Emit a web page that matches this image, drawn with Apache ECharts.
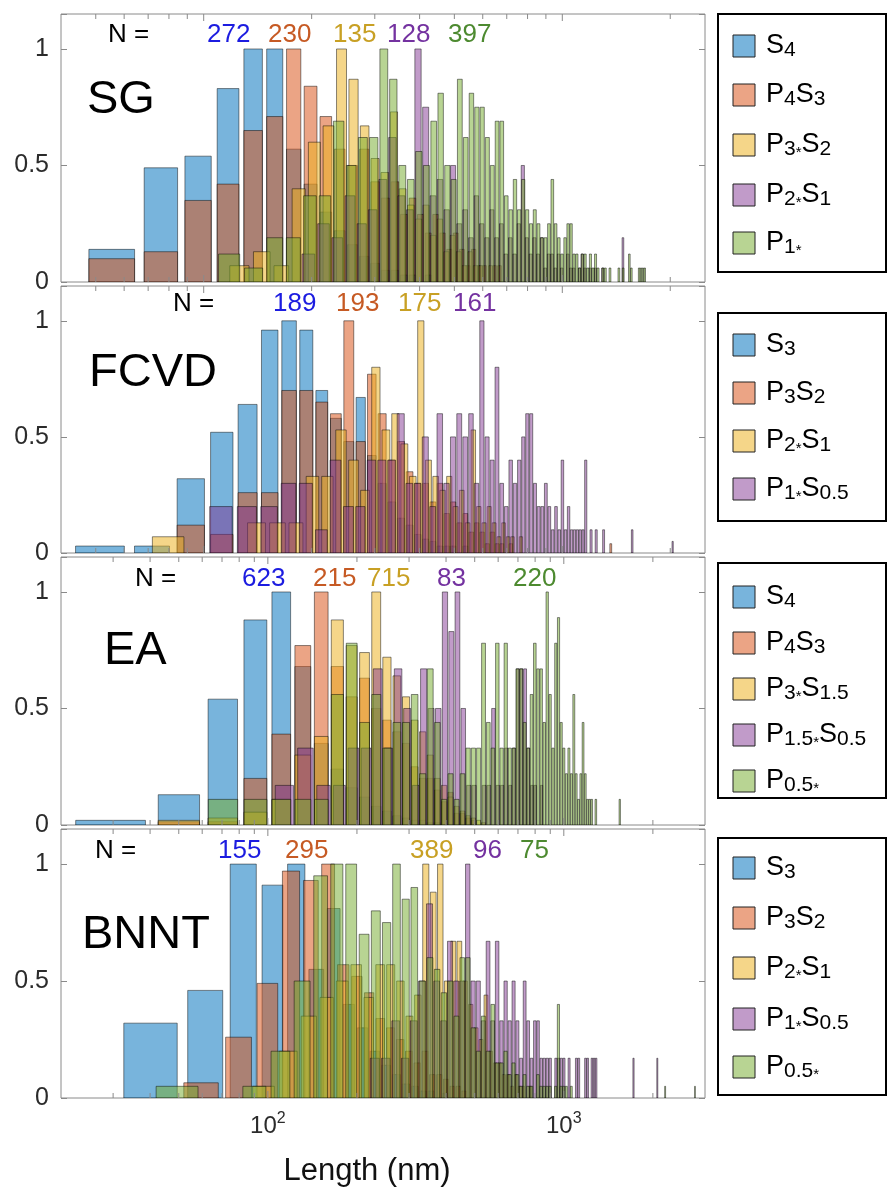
<!DOCTYPE html>
<html>
<head>
<meta charset="utf-8">
<script src="https://cdn.jsdelivr.net/npm/echarts@6/dist/echarts.min.js"></script>
<style>
  html, body { margin: 0; padding: 0; background: #ffffff; }
  #chart { width: 888px; height: 1198px; }
</style>
</head>
<body>
<div id="chart"></div>
<script>
// ---------------------------------------------------------------------------
// Length distributions (normalised so the tallest bin of each series is 1).
// Each series: first bin centre (nm), bin width (nm) and bin heights.
// ---------------------------------------------------------------------------

// SG
const SG_START = [56, 56, 126, 196, 118];
const SG_STEP  = [20.4, 20.4, 19.4, 20, 20];
const SG_N     = [272, 230, 135, 128, 397];
const SG_LABELS = ['S{sub|4}', 'P{sub|4}S{sub|3}', 'P{sub|3}{st|*}S{sub|2}', 'P{sub|2}{st|*}S{sub|1}', 'P{sub|1}{st|*}'];
const SG_S4   = [0.14,0.49,0.54,0.83,1.00,1.00,0.57,0.42,0.30,0.22,0.16,0.11,0.08,0.05,0.05,0.03,0.03,0,0.03];
const SG_P4S3 = [0.10,0.13,0.35,0.42,0.65,0.71,1.00,0.84,0.71,0.57,0.50,0.57,0.43,0.36,0.43,0.29,0.36,0.29,0.21,0.29,
                 0.21,0.14,0.21,0.14,0.07,0.14,0.07,0.07,0,0.07,0.07];
const SG_P3S2 = [0.07,0.13,0.07,0.40,0.60,0.67,1.00,0.87,0.67,0.53,0.47,0.73,0.40,0.33,0.27,0.33,0.20,0.27,0.13,0.20,
                 0.13,0.07,0.13,0.07,0.07,0,0.07];
const SG_P2S1 = [0.12,0.25,0.19,0.37,0.25,0.31,0.44,0.62,0.37,0.31,
                 1.00,0.75,0.37,0.44,0.31,0.50,0.25,0.31,0.19,0.37,
                 0.25,0.19,0.31,0.19,0.25,0.12,0.19,0.12,0.25,0.50,
                 0.19,0.12,0.19,0.12,0.19,0.06,0.12,0.12,0.06,0.12,
                 0.06,0,0.12,0.06,0.06,0,0.06,0.12,0.06,0,
                 0.06,0,0.06,0,0,0.06,0,0,0,0,
                 0,0,0,0,0.19];
const SG_P1   = [0.12,0.06,0.19,0.19,0.37,0.37,0.69,0.50,0.62,0.62,
                 1.00,0.87,0.50,0.44,0.56,0.50,0.69,0.81,0.50,0.44,
                 0.87,0.62,0.81,0.75,0.75,0.62,0.50,0.69,0.69,0.37,
                 0.31,0.44,0.31,0.44,0.31,0.25,0.31,0.25,0.19,0.19,
                 0.25,0.44,0.25,0.19,0.12,0.19,0.25,0.25,0.12,0.12,
                 0.06,0.12,0.12,0.06,0.12,0.06,0.12,0.06,0,0.06,
                 0.06,0,0.06,0,0,0,0.06,0,0.06,0,
                 0,0.12,0.06,0,0,0,0.06,0.06,0.06,0.06];
const SG_TAIL = [];

// FCVD
const FCVD_START = [52, 52, 80, 112];
const FCVD_STEP  = [20.2, 20.2, 20.2, 20.2];
const FCVD_N     = [189, 193, 175, 161];
const FCVD_LABELS = ['S{sub|3}', 'P{sub|3}S{sub|2}', 'P{sub|2}{st|*}S{sub|1}', 'P{sub|1}{st|*}S{sub|0.5}'];
const FCVD_S3   = [0.03,0.03,0.32,0.52,0.64,0.96,1.00,0.96,0.70,0.58,
                   0.48,0.67,0.42,0.30,0.22,0.15,0.12,0.08,0.06,0.05,
                   0.03,0.03,0.03,0,0.03];
const FCVD_P3S2 = [0,0,0.12,0.08,0.26,0.26,0.70,0.70,0.65,0.60,
                   1.00,0.48,0.77,0.60,0.40,0.48,0.35,0.30,0.30,0.22,
                   0.30,0.17,0.22,0.13,0.17,0.09,0.13,0.09,0.04,0.09,
                   0.04,0.04,0,0.04];
const FCVD_P2S1 = [0.07,0,0,0.13,0.13,0.13,0.33,0.33,0.53,0.40,
                   0.27,0.80,0.53,0.60,0.47,0.33,1.00,0.40,0.33,0.27,
                   0.33,0.20,0.27,0.13,0.53,0.20,0.13,0.20,0.13,0.07,
                   0.13,0.07,0.07,0,0.07];
const FCVD_P1S05 = [0.2,0.2,0.2,0.3,0.3,0.1,0.4,0.2,0.2,0.4,
                    0.4,0.4,0.6,0.3,0.3,0.5,0.2,0.6,0.3,0.5,
                    0.6,0.5,0.6,0.3,1.0,0.5,0.4,0.8,0.3,0.2,
                    0.4,0.3,0.4,0.5,0.6,0.6,0.3,0.2,0.2,0.3,
                    0.2,0.1,0.2,0.1,0.4,0.1,0.2,0.1,0.1,0.1,
                    0.1,0.1,0.4,0,0.1,0,0.1,0,0,0.1,
                    0,0,0,0,0,0,0,0,0,0,
                    0,0,0.1];
// isolated long bins: [series, bin centre (nm), height]
const FCVD_TAIL = [[1, 1365, 0.04], [3, 2031, 0.05]];

// EA
const EA_START = [30.5, 30.5, 30.5, 114, 71];
const EA_STEP  = [20.2, 20.2, 20.2, 20.2, 20.2];
const EA_N     = [623, 215, 715, 83, 220];
const EA_LABELS = ['S{sub|4}', 'P{sub|4}S{sub|3}', 'P{sub|3}{st|*}S{sub|1.5}', 'P{sub|1.5}{st|*}S{sub|0.5}', 'P{sub|0.5}{st|*}'];
const EA_S4    = [0.02,0.13,0.54,0.88,1.00,0.68,0.35,0.24,0.16,0.12,0.08,0.06,0.04,0.03,0.02,0.02,0.01,0.01];
const EA_P4S3  = [0,0.014,0.014,0.20,0.39,0.77,1.00,0.68,0.55,0.63,0.50,0.45,0.40,0.35,0.25,0.20,0.20,0.15,0.10,0.14,
                  0.05,0.05,0.03,0.02];
const EA_P3S15 = [0,0.02,0.03,0.055,0.11,0.30,0.38,0.88,0.77,0.74,1.00,0.72,0.64,0.55,0.45,0.40,0.30,0.20,0.17,0.12,
                  0.08,0.06,0.04,0.03,0.02,0.01];
const EA_P15S05 = [0.17,0.33,0.17,0.17,0.33,0.33,0.67,0.33,0.67,0.50,
                   0.17,0.67,0.50,0.50,1.00,0.83,1.00,0.50,0.17,0.17,
                   0,0.17,0.17,0.50,0.17,0.17,0.33,0.17,0.33,0.67,
                   0.67,0.67,0.33,0.17,0.17,0,0.17];
const EA_P05   = [0.11,0.11,0.11,0.11,0.11,0.56,0.78,0.44,0.56,0.33,
                  0.44,0.44,0.56,0.22,0.67,0.44,0.11,0.22,0.11,0.22,
                  0.33,0.33,0.33,0.78,0.44,0.33,0.78,0.33,0.78,0.33,
                  0.33,0.67,0.67,0.44,0.33,0.56,0.78,0.67,0.67,0.44,
                  1.00,0.56,0.33,0.78,0.89,0.44,0.33,0.22,0.33,0.22,
                  0.56,0.22,0.11,0.22,0.44,0.22,0.11,0.11,0.11,0,
                  0.11,0,0,0,0,0,0,0,0,0,
                  0,0,0,0.11];
const EA_TAIL = [];

// BNNT
const BNNT_START = [41, 60, 97, 230, 50];
const BNNT_STEP  = [21, 20, 20.4, 20.3, 20.2];
const BNNT_N     = [155, 295, 389, 96, 75];
const BNNT_LABELS = ['S{sub|3}', 'P{sub|3}S{sub|2}', 'P{sub|2}{st|*}S{sub|1}', 'P{sub|1}{st|*}S{sub|0.5}', 'P{sub|0.5}{st|*}'];
const BNNT_S3    = [0.32,0.46,1.00,0.91,1.00,0.55,0.81,0.40,0.30,0.20,0.14,0.10,0.06,0.05,0.03,0.03,0,0.02];
const BNNT_P3S2  = [0.065,0.26,0.49,0.97,0.93,1.00,0.57,0.52,0.45,0.34,0.30,0.25,0.20,0.15,0.20,0.10,0.10,0.08,0.05,0.05,
                    0.03];
const BNNT_P2S1  = [0.05,0.20,0.35,0.43,0.50,0.57,0.43,0.57,0.57,0.50,
                    0.35,0.44,1.00,0.88,1.00,0.50,0.67,0.67,0.50,0.40,
                    0.30,0.25,0.44,0.20,0.15,0.15,0.10,0.10,0.05,0.10,
                    0.05,0.05,0,0.05];
const BNNT_P1S05 = [0.17,0.17,0.33,0.17,0.33,0.50,0.83,0.50,0.33,0.67,
                    0.50,0.50,1.00,0.50,0.50,0.33,0.67,0.33,0.67,0.33,
                    0.50,0.33,0.50,0.33,0.17,0.50,0.33,0.17,0.33,0.33,
                    0.17,0.17,0.17,0.17,0,0.17,0.17,0.17,0.17,0,
                    0.17,0,0,0.17,0.17,0,0,0.17,0.17,0,
                    0.17,0.17,0.17];
const BNNT_P05   = [0.05,0,0.05,0.20,0.50,0.95,1.00,1.00,0.70,0.80,
                    0.75,1.00,0.85,0.90,0.50,0.60,0.55,0.45,0.50,0.35,
                    0.60,0.60,0.30,0.20,0.35,0.20,0.40,0.15,0.15,0.20,
                    0.10,0.15,0.10,0.05,0.10,0.05,0.05,0,0.10,0.05,
                    0.05,0.05,0.05,0,0.05,0.40,0.05,0.05,0.05,0,
                    0.05];
const BNNT_TAIL = [[3, 1720, 0.17], [3, 2070, 0.17], [4, 2200, 0.05], [4, 2775, 0.05]];

// Axis ranges and tick positions (nm)
const X_RANGE_A = [40, 2500];
const X_RANGE_B = [20, 3000];
const TICKS_A = [50, 60, 70, 80, 90, 100, 200, 300, 400, 500, 600, 700, 800, 900, 1000, 2000];
const TICKS_B = [30, 40, 50, 60, 70, 80, 90, 100, 200, 300, 400, 500, 600, 700, 800, 900, 1000, 2000];
const Y_MAX = 1.15;
const Y_TICK_LABELS = [0, 0.5, 1];

// ---------------------------------------------------------------------------
// Styling
// ---------------------------------------------------------------------------
const FONT = '"Liberation Sans", Arial, Helvetica, sans-serif';
const AXIS_GRAY = '#8a8a8a';
const LABEL_GRAY = '#2b2b2b';
const FACE = ['rgba(0,114,189,0.53)', 'rgba(217,83,25,0.53)', 'rgba(237,177,32,0.53)',
              'rgba(126,47,142,0.48)', 'rgba(119,172,48,0.52)'];
const NUM_COLOR = ['#1c1ce0', '#c65a24', '#c8a024', '#7432a0', '#4d8a30'];
const EDGE = 'rgba(0,0,0,0.58)';
const BAR_FRAC = 0.8;

const panels = [
  { title: 'SG', titleXY: [87, 100], range: X_RANGE_A, ticks: TICKS_A,
    start: SG_START, step: SG_STEP, heights: [SG_S4, SG_P4S3, SG_P3S2, SG_P2S1, SG_P1], tail: SG_TAIL,
    n: SG_N, labels: SG_LABELS, colors: [0, 1, 2, 3, 4],
    top: 14, height: 268, nY: 35, nLabelX: 108, nX: [207, 268, 333, 387, 448],
    legendBox: [14, 272], legendRows: [46, 95, 145, 195, 243] },
  { title: 'FCVD', titleXY: [89, 373], range: X_RANGE_A, ticks: TICKS_A,
    start: FCVD_START, step: FCVD_STEP, heights: [FCVD_S3, FCVD_P3S2, FCVD_P2S1, FCVD_P1S05], tail: FCVD_TAIL,
    n: FCVD_N, labels: FCVD_LABELS, colors: [0, 1, 2, 3],
    top: 286, height: 267, nY: 304, nLabelX: 173, nX: [273, 336, 398, 453],
    legendBox: [313, 521], legendRows: [345, 393, 441, 489] },
  { title: 'EA', titleXY: [104, 651], range: X_RANGE_B, ticks: TICKS_B,
    start: EA_START, step: EA_STEP, heights: [EA_S4, EA_P4S3, EA_P3S15, EA_P15S05, EA_P05], tail: EA_TAIL,
    n: EA_N, labels: EA_LABELS, colors: [0, 1, 2, 3, 4],
    top: 557, height: 268, nY: 579, nLabelX: 135, nX: [242, 313, 367, 437, 513],
    legendBox: [563, 798], legendRows: [597, 643, 689, 735, 781] },
  { title: 'BNNT', titleXY: [82, 935], range: X_RANGE_B, ticks: TICKS_B,
    start: BNNT_START, step: BNNT_STEP, heights: [BNNT_S3, BNNT_P3S2, BNNT_P2S1, BNNT_P1S05, BNNT_P05], tail: BNNT_TAIL,
    n: BNNT_N, labels: BNNT_LABELS, colors: [0, 1, 2, 3, 4],
    top: 829, height: 269, nY: 851, nLabelX: 95, nX: [218, 285, 410, 473, 520],
    legendBox: [838, 1095], legendRows: [868, 918, 968, 1019, 1067] }
];

// Turn bin heights into [left edge, right edge, height] rectangles (in nm).
function buildBars(p, k) {
  const half = BAR_FRAC / 2 * p.step[k];
  const out = [];
  p.heights[k].forEach((h, j) => {
    if (h <= 0) return;
    const c = p.start[k] + j * p.step[k];
    out.push([c - half, c + half, h]);
  });
  p.tail.filter(t => t[0] === k).forEach(t => out.push([t[1] - half, t[1] + half, t[2]]));
  return out;
}

function isPow10(v) {
  const e = Math.log10(v);
  return Math.abs(e - Math.round(e)) < 1e-6;
}

const grids = [], xAxes = [], yAxes = [], series = [], graphics = [];

panels.forEach((p, i) => {
  const last = i === panels.length - 1;
  grids.push({ left: 61, width: 644, top: p.top, height: p.height, show: true,
               borderColor: AXIS_GRAY, borderWidth: 1, backgroundColor: 'transparent' });

  xAxes.push({
    type: 'log', logBase: 10, gridIndex: i, min: p.range[0], max: p.range[1],
    axisLine: { show: false }, axisTick: { show: false }, splitLine: { show: false },
    axisLabel: last ? {
      show: true, margin: 13, fontSize: 24, lineHeight: 30, color: LABEL_GRAY, fontFamily: FONT,
      formatter: v => isPow10(v) ? '10{sup|' + Math.round(Math.log10(v)) + '}' : '',
      rich: { sup: { fontSize: 16, lineHeight: 16, verticalAlign: 'top', color: LABEL_GRAY, fontFamily: FONT } }
    } : { show: false }
  });

  const yBase = {
    type: 'value', gridIndex: i, min: 0, max: Y_MAX, interval: 0.5,
    axisLine: { show: false }, splitLine: { show: false },
    axisTick: { show: true, inside: true, length: 6, lineStyle: { color: AXIS_GRAY, width: 1 } }
  };
  yAxes.push(Object.assign({}, yBase, {
    position: 'left',
    axisLabel: { show: true, margin: 12, fontSize: 25, color: LABEL_GRAY, fontFamily: FONT,
                 formatter: v => Y_TICK_LABELS.indexOf(v) >= 0 ? String(v) : '' }
  }));
  yAxes.push(Object.assign({}, yBase, { position: 'right', axisLabel: { show: false } }));

  p.heights.forEach((_, k) => {
    const fill = FACE[p.colors[k]];
    series.push({
      type: 'custom', xAxisIndex: i, yAxisIndex: 2 * i, coordinateSystem: 'cartesian2d',
      clip: true, silent: true, animation: false, z: 2 + k,
      data: buildBars(p, k), encode: { x: [0, 1], y: 2 },
      renderItem: (params, api) => {
        const a = api.coord([api.value(0), api.value(2)]);
        const b = api.coord([api.value(1), 0]);
        return { type: 'rect',
                 shape: { x: a[0], y: a[1], width: b[0] - a[0], height: b[1] - a[1] },
                 style: { fill: fill, stroke: EDGE, lineWidth: 0.8 } };
      }
    });
  });

  // log-scale tick marks on the bottom and top edges
  series.push({
    type: 'custom', xAxisIndex: i, yAxisIndex: 2 * i, coordinateSystem: 'cartesian2d',
    silent: true, animation: false, z: 20,
    data: p.ticks.map(v => [v, 0]), encode: { x: 0, y: 1 },
    renderItem: (params, api) => {
      const v = api.value(0);
      const b = api.coord([v, 0]);
      const t = api.coord([v, Y_MAX]);
      const len = isPow10(v) ? 7 : 5;
      return { type: 'group', children: [
        { type: 'line', shape: { x1: b[0], y1: b[1], x2: b[0], y2: b[1] - len },
          style: { stroke: AXIS_GRAY, lineWidth: 1 } },
        { type: 'line', shape: { x1: t[0], y1: t[1], x2: t[0], y2: t[1] + len },
          style: { stroke: AXIS_GRAY, lineWidth: 1 } }
      ] };
    }
  });

  // panel name
  graphics.push({ type: 'text', x: p.titleXY[0], y: p.titleXY[1], z: 50,
    style: { text: p.title, fill: '#000', fontSize: 47, fontFamily: FONT,
             align: 'left', verticalAlign: 'middle', textAlign: 'left', textVerticalAlign: 'middle' } });

  // sample counts
  graphics.push({ type: 'text', x: p.nLabelX, y: p.nY, z: 50,
    style: { text: 'N =', fill: '#000', fontSize: 26, fontFamily: FONT,
             align: 'left', verticalAlign: 'middle', textAlign: 'left', textVerticalAlign: 'middle' } });
  p.n.forEach((n, k) => {
    graphics.push({ type: 'text', x: p.nX[k], y: p.nY, z: 50,
      style: { text: String(n), fill: NUM_COLOR[p.colors[k]], fontSize: 26, fontFamily: FONT,
               align: 'left', verticalAlign: 'middle', textAlign: 'left', textVerticalAlign: 'middle' } });
  });

  // legend box
  graphics.push({ type: 'rect', z: 50,
    shape: { x: 718, y: p.legendBox[0], width: 168, height: p.legendBox[1] - p.legendBox[0] },
    style: { fill: '#fff', stroke: '#000', lineWidth: 2 } });
  p.labels.forEach((lab, k) => {
    const yc = p.legendRows[k];
    graphics.push({ type: 'rect', z: 51,
      shape: { x: 733, y: yc - 11, width: 22, height: 22 },
      style: { fill: FACE[p.colors[k]], stroke: '#222', lineWidth: 1 } });
    graphics.push({ type: 'text', x: 766, y: yc, z: 51,
      style: { text: lab, fill: '#000', fontSize: 27, lineHeight: 30, fontFamily: FONT,
               align: 'left', verticalAlign: 'middle', textAlign: 'left', textVerticalAlign: 'middle',
               rich: {
                 sub: { fontSize: 21, lineHeight: 20, verticalAlign: 'bottom', fill: '#000', fontFamily: FONT },
                 st:  { fontSize: 15, lineHeight: 15, verticalAlign: 'bottom', fill: '#000', fontFamily: FONT }
               } } });
  });
});

// x-axis title
graphics.push({ type: 'text', x: 367, y: 1171, z: 50,
  style: { text: 'Length (nm)', fill: '#111', fontSize: 31, fontFamily: FONT,
           align: 'center', verticalAlign: 'middle', textAlign: 'center', textVerticalAlign: 'middle' } });

const chart = echarts.init(document.getElementById('chart'), null, { renderer: 'canvas', width: 888, height: 1198 });
chart.setOption({
  backgroundColor: '#ffffff',
  animation: false,
  textStyle: { fontFamily: FONT },
  grid: grids,
  xAxis: xAxes,
  yAxis: yAxes,
  series: series,
  graphic: { elements: graphics }
});
</script>
</body>
</html>
